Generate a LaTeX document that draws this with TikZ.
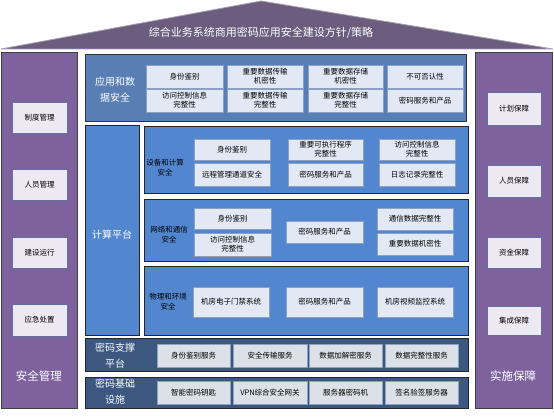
\documentclass[tikz,border=0pt]{standalone}
\usepackage{fontspec}
\setmainfont{Noto Sans CJK SC}
\definecolor{roofc}{RGB}{108,92,126}
\definecolor{purp}{RGB}{126,98,158}
\definecolor{sideboxc}{RGB}{236,233,243}
\definecolor{sidebord}{RGB}{100,110,160}
\definecolor{appc}{RGB}{88,126,180}
\definecolor{compc}{RGB}{82,135,208}
\definecolor{navyc}{RGB}{60,88,128}
\definecolor{cellc}{RGB}{226,233,245}
\definecolor{cellbord}{RGB}{140,160,195}
\definecolor{grayc}{RGB}{220,225,232}
\tikzset{
  base/.style={inner sep=0pt,outer sep=0pt,align=center,line width=0.7pt},
  sidecol/.style={base,fill=purp,draw=black!75},
  sidebox/.style={base,fill=sideboxc,draw=sidebord,font=\fontsize{7.5}{9}\selectfont},
  appblk/.style={base,fill=appc,draw=black!80,line width=1pt},
  compblk/.style={base,fill=compc,draw=black!85,line width=1pt},
  navyblk/.style={base,fill=navyc,draw=black!85,line width=1pt},
  cell/.style={base,fill=cellc,draw=cellbord,font=\fontsize{7.5}{9}\selectfont},
  gcell/.style={base,fill=grayc,draw=cellbord,font=\fontsize{7.5}{9}\selectfont},
  biglbl/.style={text=white,font=\fontsize{10}{16}\selectfont,align=center},
  seclbl/.style={text=black,font=\fontsize{7.5}{10}\selectfont,align=center},
}
\newcommand\bx[7]{%
  \pgfmathsetmacro\bxw{#5-#3}\pgfmathsetmacro\bxh{#6-#4}%
  \node[#2,anchor=north west,minimum width=\bxw pt,minimum height=\bxh pt] (#1) at (#3,#4) {#7};}
\begin{document}
\begin{tikzpicture}[x=1pt,y=-1pt]
\useasboundingbox[fill=white] (0,0) rectangle (554,419);
% roof
\path[fill=roofc,draw=roofc!60!white,line width=0.8pt] (1,49) -- (261,1) -- (553,49) -- cycle;
\node[text=white,font=\fontsize{11}{13}\selectfont] (roof) at (261,33) {综合业务系统商用密码应用安全建设方针/策略};
% side columns
\bx{lcol}{sidecol}{1}{52}{77}{408}{}
\bx{rcol}{sidecol}{475}{52}{552}{408}{}
\node[text=white,font=\fontsize{11.5}{13}\selectfont] (lt) at (39,376) {安全管理};
\node[text=white,font=\fontsize{11.5}{13}\selectfont] (rt) at (513,376) {实施保障};
\bx{l1}{sidebox}{12}{102}{67}{133}{制度管理}
\bx{l2}{sidebox}{12}{169}{67}{200}{人员管理}
\bx{l3}{sidebox}{12}{237}{67}{268}{建设运行}
\bx{l4}{sidebox}{12}{304}{67}{336}{应急处置}
\bx{r1}{sidebox}{487}{92}{541}{125}{计划保障}
\bx{r2}{sidebox}{487}{165}{541}{197}{人员保障}
\bx{r3}{sidebox}{487}{237}{541}{268}{资金保障}
\bx{r4}{sidebox}{487}{306}{541}{335}{集成保障}
% application layer
\bx{app}{appblk}{85}{55}{466}{122}{}
\node[biglbl] (appl) at (115,90) {应用和数\\据安全};
\bx{a1}{cell}{146}{65}{223}{88}{身份鉴别}
\bx{a2}{cell}{227}{65}{303}{88}{重要数据传输\\机密性}
\bx{a3}{cell}{308}{65}{383}{88}{重要数据存储\\机密性}
\bx{a4}{cell}{387}{65}{463}{88}{不可否认性}
\bx{a5}{cell}{146}{89}{223}{112}{访问控制信息\\完整性}
\bx{a6}{cell}{227}{89}{303}{112}{重要数据传输\\完整性}
\bx{a7}{cell}{308}{89}{383}{112}{重要数据存储\\完整性}
\bx{a8}{cell}{387}{89}{463}{112}{密码服务和产品}
% computing platform
\bx{cp}{compblk}{85}{126}{139}{336}{}
\node[biglbl] (cpl) at (112,235) {计算平台};
\bx{dev}{compblk}{144}{127}{468}{194}{}
\node[seclbl] (devl) at (165,168) {设备和计算\\安全};
\bx{d1}{cell}{194}{139}{270}{160}{身份鉴别}
\bx{d2}{cell}{288}{139}{363}{160}{重要可执行程序\\完整性}
\bx{d3}{cell}{379}{139}{455}{160}{访问控制信息\\完整性}
\bx{d4}{cell}{194}{163}{270}{186}{远程管理通道安全}
\bx{d5}{cell}{288}{163}{363}{186}{密码服务和产品}
\bx{d6}{cell}{379}{163}{455}{186}{日志记录完整性}
\bx{net}{compblk}{144}{200}{468}{262}{}
\node[seclbl] (netl) at (169,235) {网络和通信\\安全};
\bx{n1}{cell}{194}{208}{271}{229}{身份鉴别}
\bx{n2}{cell}{194}{233}{271}{256}{访问控制信息\\完整性}
\bx{n3}{cell}{286}{221}{363}{243}{密码服务和产品}
\bx{n4}{cell}{377}{208}{453}{230}{通信数据完整性}
\bx{n5}{cell}{377}{233}{453}{255}{重要数据机密性}
\bx{phy}{compblk}{144}{267}{468}{336}{}
\node[seclbl] (phyl) at (168,302) {物理和环境\\安全};
\bx{p1}{cell}{193}{287}{269}{317}{机房电子门禁系统}
\bx{p2}{cell}{286}{287}{363}{317}{密码服务和产品}
\bx{p3}{cell}{377}{287}{453}{317}{机房视频监控系统}
% support platform
\bx{sup}{navyblk}{85}{339}{468}{372}{}
\node[biglbl] (supl) at (115,356) {密码支撑\\平台};
\bx{s1}{gcell}{157}{344}{230}{367}{身份鉴别服务}
\bx{s2}{gcell}{233}{344}{307}{367}{安全传输服务}
\bx{s3}{gcell}{309}{344}{382}{367}{数据加解密服务}
\bx{s4}{gcell}{385}{344}{458}{367}{数据完整性服务}
% infrastructure
\bx{inf}{navyblk}{85}{377}{468}{408}{}
\node[biglbl] (infl) at (115,392) {密码基础\\设施};
\bx{i1}{gcell}{157}{381}{230}{404}{智能密码钥匙}
\bx{i2}{gcell}{233}{381}{307}{404}{VPN综合安全网关}
\bx{i3}{gcell}{309}{381}{382}{404}{服务器密码机}
\bx{i4}{gcell}{385}{381}{458}{404}{签名验签服务器}
\end{tikzpicture}
\end{document}
